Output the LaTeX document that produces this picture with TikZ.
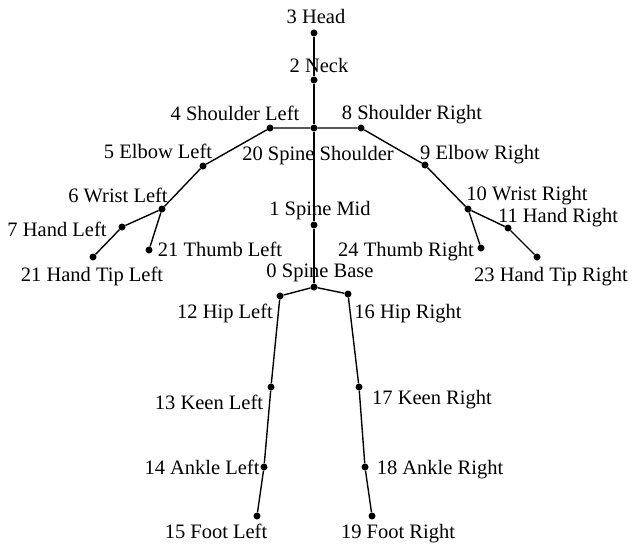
\documentclass[tikz,border=0pt]{standalone}
\usepackage{fontspec}
\setmainfont{Liberation Serif}
\begin{document}
\begin{tikzpicture}[x=1pt,y=-1pt,
  joint/.style={circle,fill=black,inner sep=0pt,minimum size=7pt},
  lbl/.style={anchor=base,inner sep=0pt,font=\fontsize{20.5}{24}\selectfont},
  bone/.style={line width=1.4pt}]
\useasboundingbox (0,0) rectangle (632,547);
% joints
\node[joint] (j3) at (314,33) {};
\node[joint] (j2) at (314,80) {};
\node[joint] (j20) at (314,128) {};
\node[joint] (j4) at (270,128) {};
\node[joint] (j8) at (361,128) {};
\node[joint] (j5) at (203,166) {};
\node[joint] (j6) at (162,209) {};
\node[joint] (j7) at (122,227) {};
\node[joint] (jtl) at (149,250) {};
\node[joint] (jhtl) at (93,257) {};
\node[joint] (j9) at (425,165) {};
\node[joint] (j10) at (468,209) {};
\node[joint] (j11) at (508,228) {};
\node[joint] (j24) at (481,248) {};
\node[joint] (j23) at (537,257) {};
\node[joint] (j1) at (314,225) {};
\node[joint] (j0) at (314,287) {};
\node[joint] (j12) at (280,296) {};
\node[joint] (j16) at (348,294) {};
\node[joint] (j13) at (271,387) {};
\node[joint] (j17) at (359,387) {};
\node[joint] (j14) at (264,467) {};
\node[joint] (j18) at (365,467) {};
\node[joint] (j15) at (257,516) {};
\node[joint] (j19) at (372,516) {};
% bones
\draw[bone] (j3) -- (j2) -- (j20) -- (j1) -- (j0);
\draw[bone] (j20) -- (j4) -- (j5) -- (j6) -- (j7) -- (jhtl);
\draw[bone] (j6) -- (jtl);
\draw[bone] (j20) -- (j8) -- (j9) -- (j10) -- (j11) -- (j23);
\draw[bone] (j10) -- (j24);
\draw[bone] (j0) -- (j12) -- (j13) -- (j14) -- (j15);
\draw[bone] (j0) -- (j16) -- (j17) -- (j18) -- (j19);
% labels
\node[lbl] (l3) at (316,23) {3 Head};
\node[lbl] (l2) at (319,72) {2 Neck};
\node[lbl] (l4) at (235,120) {4 Shoulder Left};
\node[lbl] (l8) at (412,119) {8 Shoulder Right};
\node[lbl] (l5) at (158,158) {5 Elbow Left};
\node[lbl] (l20) at (318,160) {20 Spine Shoulder};
\node[lbl] (l9) at (480,159) {9 Elbow Right};
\node[lbl] (l6) at (118,202) {6 Wrist Left};
\node[lbl] (l10) at (527,200) {10 Wrist Right};
\node[lbl] (l1) at (320,215) {1 Spine Mid};
\node[lbl] (l11) at (558,222) {11 Hand Right};
\node[lbl] (l7) at (57,236) {7 Hand Left};
\node[lbl] (ltl) at (220,256) {21 Thumb Left};
\node[lbl] (l24) at (406,256) {24 Thumb Right};
\node[lbl] (lhtl) at (92,281) {21 Hand Tip Left};
\node[lbl] (l23) at (551,281) {23 Hand Tip Right};
\node[lbl] (l0) at (320,277) {0 Spine Base};
\node[lbl] (l12) at (225,318) {12 Hip Left};
\node[lbl] (l16) at (408,318) {16 Hip Right};
\node[lbl] (l13) at (209,409) {13 Keen Left};
\node[lbl] (l17) at (432,404) {17 Keen Right};
\node[lbl] (l14) at (202,474) {14 Ankle Left};
\node[lbl] (l18) at (440,474) {18 Ankle Right};
\node[lbl] (l15) at (216,538) {15 Foot Left};
\node[lbl] (l19) at (398,538) {19 Foot Right};
\end{tikzpicture}
\end{document}
